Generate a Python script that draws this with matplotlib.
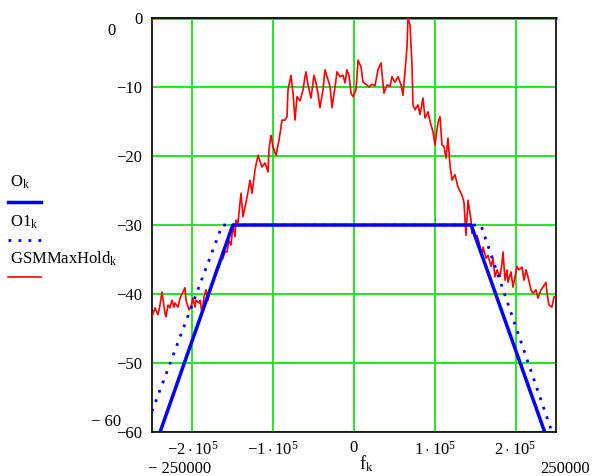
import matplotlib.pyplot as plt
from matplotlib.lines import Line2D

plt.rcParams['font.family'] = ['Liberation Serif', 'DejaVu Serif']
plt.rcParams['mathtext.fontset'] = 'custom'
plt.rcParams['mathtext.rm'] = 'Liberation Serif'
plt.rcParams['mathtext.it'] = 'Liberation Serif'

# spectrum mask O (solid) and O1 (dotted), frequency in Hz, level in dB
mask_f = [-240000, -150000, 145000, 236000]
mask_db = [-60, -30, -30, -60]
mask1_f = [-250000, -163000, 157000, 245000]
mask1_db = [-57, -30, -30, -60]

# measured GSM max hold trace, frequency in kHz, level in dB
gsm_khz = [
    -250.0, -246.3, -242.6, -240.1, -237.6, -233.9, -232.7, -230.2, -227.7, -225.2,
    -222.8, -221.5, -217.8, -215.3, -211.6, -209.2, -207.9, -204.2, -201.7, -199.3,
    -196.8, -195.5, -191.8, -190.6, -188.1, -185.6, -183.2, -180.7, -179.5, -177.0,
    -174.5, -172.0, -169.6, -167.1, -165.8, -162.1, -159.7, -157.2, -154.7, -152.2,
    -149.8, -147.3, -146.0, -143.6, -139.9, -137.4, -132.4, -128.7, -126.2, -122.5,
    -118.8, -113.9, -110.1, -106.4, -105.2, -102.7, -100.2, -96.5, -92.8, -89.1,
    -85.4, -82.9, -81.7, -78.0, -75.5, -73.0, -70.5, -66.8, -63.1, -60.6,
    -59.4, -56.9, -53.2, -49.5, -47.0, -44.6, -42.1, -38.4, -35.9, -33.4,
    -29.7, -27.2, -23.5, -21.0, -17.3, -13.6, -11.1, -8.7, -6.2, -3.7,
    -1.2, 2.5, 5.0, 8.7, 11.1, 14.9, 18.6, 22.3, 26.0, 29.7,
    33.4, 37.1, 40.8, 44.6, 47.0, 50.7, 54.5, 58.2, 60.6, 63.1,
    65.6, 66.8, 69.3, 71.8, 73.0, 75.5, 79.2, 81.7, 85.4, 87.9,
    91.6, 94.1, 97.8, 100.2, 104.0, 106.4, 108.9, 111.4, 113.9, 116.3,
    118.8, 121.3, 125.0, 128.7, 133.7, 136.1, 138.6, 141.1, 144.8, 146.0,
    147.3, 149.8, 152.2, 154.7, 158.4, 159.7, 163.4, 165.8, 169.6, 172.0,
    174.5, 177.0, 180.7, 183.2, 184.4, 186.9, 189.4, 190.6, 194.3, 196.8,
    199.3, 201.7, 204.2, 207.9, 210.4, 212.9, 215.3, 219.1, 221.5, 225.2,
    227.7, 231.4, 233.9, 237.6, 238.9, 241.3, 245.0, 247.5, 250.0,
]
gsm_db = [
    -43.3, -42.0, -43.0, -41.6, -39.7, -42.8, -43.3, -41.6, -42.0, -40.9,
    -41.9, -41.3, -41.9, -40.6, -39.7, -39.1, -40.9, -42.3, -41.9, -40.6,
    -41.9, -40.9, -41.3, -40.9, -42.8, -40.4, -39.4, -40.9, -40.1, -39.1,
    -38.0, -37.0, -36.1, -36.2, -35.4, -34.8, -33.9, -33.9, -32.2, -32.9,
    -30.0, -31.7, -29.3, -29.7, -25.4, -28.8, -26.0, -23.5, -25.4, -22.0,
    -19.9, -21.6, -21.0, -22.3, -19.0, -17.0, -18.7, -19.9, -17.7, -14.8,
    -14.8, -14.3, -10.4, -8.3, -10.9, -14.8, -11.4, -12.0, -10.4, -8.5,
    -7.8, -9.7, -11.6, -8.3, -9.4, -10.9, -13.0, -10.4, -7.5, -8.5,
    -9.9, -13.0, -10.0, -7.8, -8.5, -8.3, -9.4, -7.5, -8.3, -10.9,
    -11.4, -10.4, -6.1, -7.1, -9.3, -9.6, -10.0, -9.6, -9.8, -7.5,
    -6.5, -10.9, -9.7, -9.9, -8.5, -9.3, -8.5, -9.7, -11.2, -7.8,
    -4.2, 0.0, -1.0, -6.8, -12.6, -13.3, -12.6, -14.0, -11.6, -14.5,
    -13.6, -15.0, -16.5, -18.4, -15.1, -14.3, -18.4, -18.6, -20.3, -17.4,
    -21.3, -23.5, -22.7, -24.5, -25.7, -26.7, -31.5, -26.4, -29.3, -31.2,
    -30.5, -31.9, -31.5, -32.5, -34.6, -33.2, -34.8, -34.4, -36.0, -34.8,
    -37.5, -36.5, -37.5, -35.5, -33.9, -38.0, -36.5, -38.3, -36.8, -39.0,
    -37.5, -36.0, -36.5, -36.1, -38.0, -36.5, -37.5, -39.4, -39.9, -39.4,
    -40.6, -39.4, -39.0, -38.3, -39.9, -41.6, -41.9, -40.4, -40.5,
]
gsm_f = [k * 1000 for k in gsm_khz]

x_ticks = [-200000, -100000, 0, 100000, 200000]
x_labels = [r'$-2\cdot10^{5}$', r'$-1\cdot10^{5}$', '0', r'$1\cdot10^{5}$', r'$2\cdot10^{5}$']
y_ticks = [0, -10, -20, -30, -40, -50, -60]
y_labels = ['0', '\u221210', '\u221220', '\u221230', '\u221240', '\u221250', '\u221260']

fig = plt.figure(figsize=(5.92, 4.76), dpi=100)
ax = fig.add_axes([152 / 592, 1 - 432 / 476, 404 / 592, 414 / 476])

ax.plot(gsm_f, gsm_db, color='#ff0000', lw=1.2, zorder=3)
ax.plot(mask_f, mask_db, color='#0000ff', lw=2.5, zorder=4)
ax.plot(mask1_f, mask1_db, color='#0000ff', lw=2.0, ls=(0, (1, 2.6)), zorder=4)

ax.set_xlim(-250000, 250000)
ax.set_ylim(-60, 0)
ax.set_xticks(x_ticks)
ax.set_xticklabels(x_labels, fontsize=12)
ax.set_yticks(y_ticks)
ax.set_yticklabels(y_labels, fontsize=12)
ax.tick_params(axis='x', length=0, pad=6)
ax.tick_params(axis='y', length=0, pad=7)
ax.grid(True, color='#00e000', lw=1.2, zorder=1)
ax.axhline(0, color='#00e000', lw=2.0, zorder=1, clip_on=False)
for sp in ax.spines.values():
    sp.set_color('black')
    sp.set_linewidth(1.2)

# axis range labels, Mathcad style
fig.text(111 / 592, 1 - 31 / 476, '0', fontsize=12, ha='center', va='center')
fig.text(106 / 592, 1 - 422 / 476, '\u2212 60', fontsize=12, ha='center', va='center')
fig.text(180 / 592, 1 - 469 / 476, '\u2212 250000', fontsize=12, ha='center', va='center')
fig.text(565 / 592, 1 - 469 / 476, '250000', fontsize=12, ha='center', va='center')
fig.text(366 / 592, 1 - 464 / 476, r'$\mathrm{f_k}$', fontsize=13, ha='center', va='center')

# legend on the left
legend = [
    (r'$\mathrm{O_k}$', dict(color='#0000ff', lw=2.5), 182, 202),
    (r'$\mathrm{O1_k}$', dict(color='#0000ff', lw=2.0, ls=(0, (1, 2.6))), 222, 240),
    (r'$\mathrm{GSMMaxHold_k}$', dict(color='#ff0000', lw=1.2), 259, 277),
]
for label, style, ty, ly in legend:
    fig.text(10 / 592, 1 - ty / 476, label, fontsize=12, ha='left', va='center')
    fig.add_artist(Line2D([8 / 592, 41 / 592], [1 - ly / 476, 1 - ly / 476],
                          transform=fig.transFigure, **style))

fig.savefig('out.png', dpi=100)
